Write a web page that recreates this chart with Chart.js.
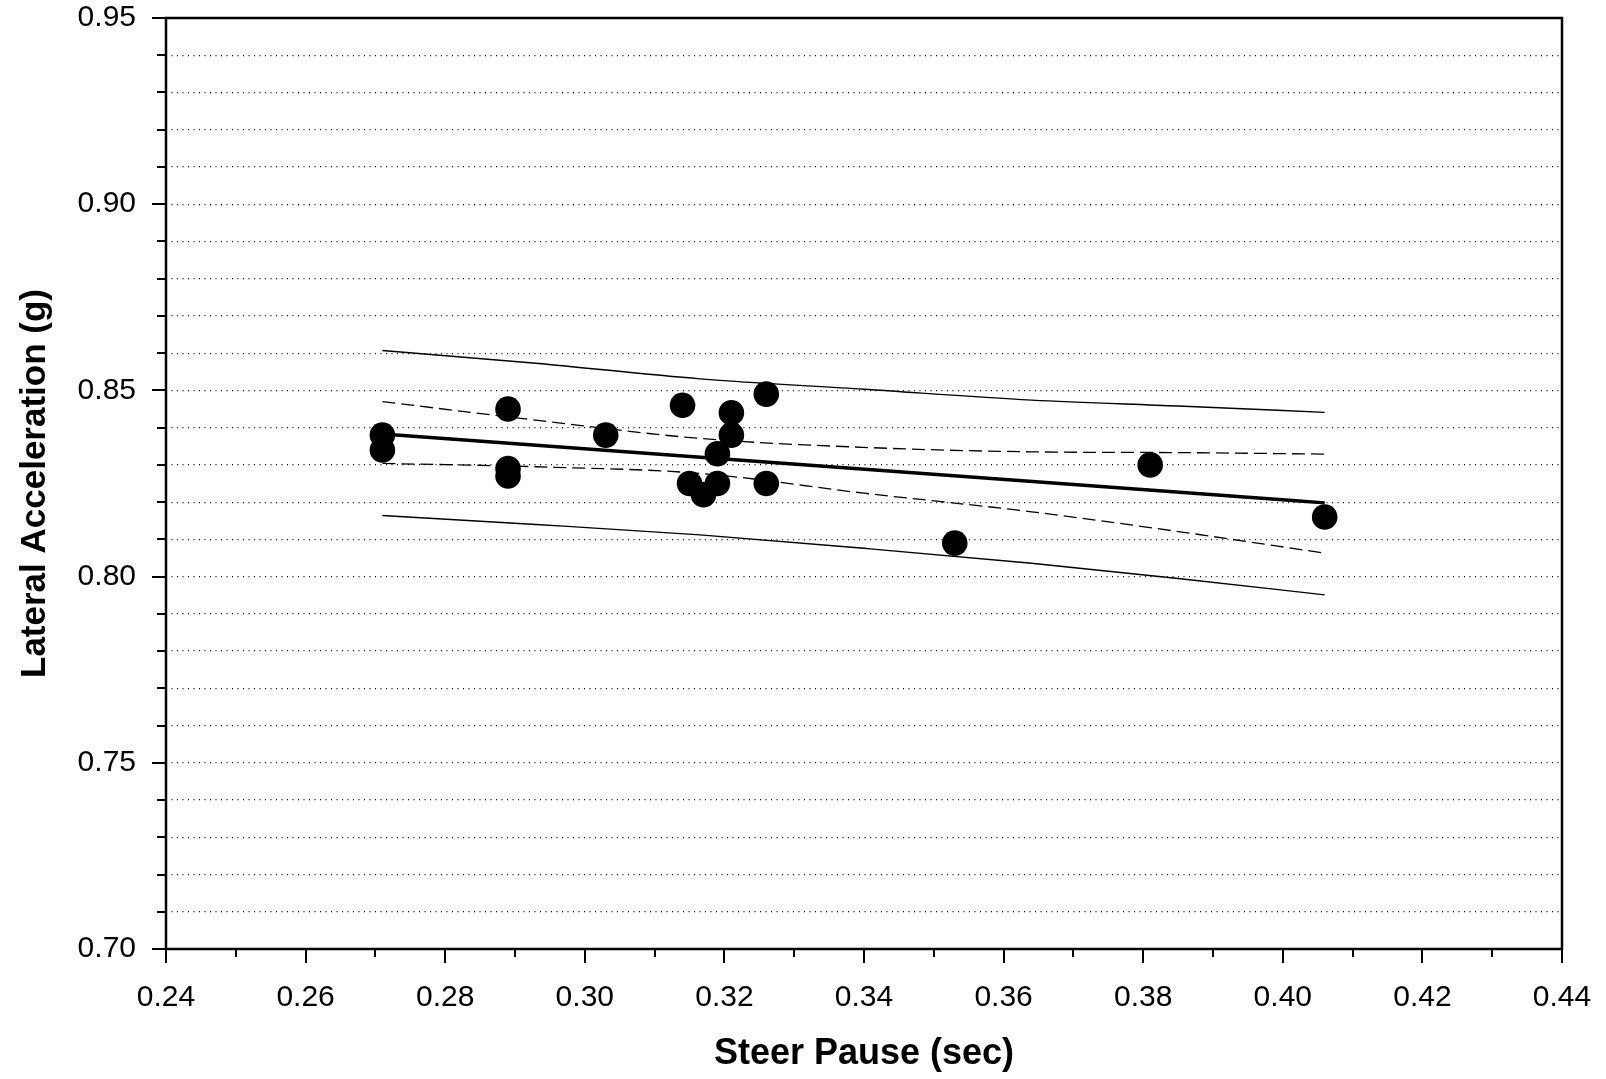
<!DOCTYPE html>
<html>
<head>
<meta charset="utf-8">
<script src="https://cdn.jsdelivr.net/npm/chart.js@4.4.0/dist/chart.umd.min.js"></script>
<style>
  body { margin: 0; background: #fff; }
  #wrap { width: 1606px; height: 1079px; }
</style>
</head>
<body>
<div id="wrap"><canvas id="myChart"></canvas></div>
<script>
// Measured points (steer pause vs lateral acceleration)
const steerPause = [0.271, 0.271, 0.289, 0.289, 0.289, 0.303, 0.314, 0.315, 0.317, 0.319, 0.319, 0.321, 0.321, 0.326, 0.326, 0.353, 0.381, 0.406]
const latAccel   = [0.838, 0.834, 0.845, 0.829, 0.827, 0.838, 0.846, 0.825, 0.822, 0.833, 0.825, 0.844, 0.838, 0.849, 0.825, 0.809, 0.830, 0.816]

// Linear fit
const fitX = [0.271, 0.406]
const fitY = [0.8383, 0.8198]

// Band curves
const bandX     = [0.271, 0.293, 0.3165, 0.340, 0.364, 0.385, 0.406]
const upperPred = [0.8607, 0.8573, 0.8531, 0.8503, 0.8474, 0.8458, 0.8441]
const lowerPred = [0.8164, 0.8140, 0.8112, 0.8076, 0.8036, 0.7995, 0.7951]
const upperConf = [0.8470, 0.8420, 0.8371, 0.8347, 0.8335, 0.8333, 0.8329]
const lowerConf = [0.8304, 0.8295, 0.8277, 0.8224, 0.8174, 0.8121, 0.8063]

// Axis settings
const xMin = 0.24, xMax = 0.44
const yMin = 0.70, yMax = 0.95

function pairs(xs, ys) {
    return xs.map((x, i) => ({x: x, y: ys[i]}))
}

function curve(xs, ys, width, dash, ord) {
    return {
        type: 'line',
        data: pairs(xs, ys),
        borderColor: '#000',
        borderWidth: width,
        borderDash: dash,
        pointRadius: 0,
        fill: false,
        cubicInterpolationMode: 'monotone',
        order: ord
    }
}

// keep the plot area where we put it (labels may overhang into the margins)
function noPad(scale) {
    scale.paddingLeft = 0
    scale.paddingRight = 0
    scale.paddingTop = 0
    scale.paddingBottom = 0
}

// Draws frame and the tick marks (long on major, short on minor)
const frameTicks = {
    id: 'frameTicks',
    afterDraw(chart) {
        const c = chart.ctx
        const a = chart.chartArea
        const xs = chart.scales.x
        const ys = chart.scales.y
        c.save()
        c.strokeStyle = '#000'
        c.lineWidth = 2
        c.setLineDash([])
        c.beginPath()
        ys.ticks.forEach(t => {
            const py = Math.round(ys.getPixelForValue(t.value))
            const major = Math.round(t.value * 100) % 5 === 0
            c.moveTo(a.left, py)
            c.lineTo(a.left - (major ? 14 : 9), py)
        })
        xs.ticks.forEach(t => {
            const px = Math.round(xs.getPixelForValue(t.value))
            const major = Math.round(t.value * 100) % 2 === 0
            c.moveTo(px, a.bottom)
            c.lineTo(px, a.bottom + (major ? 14 : 8))
        })
        c.stroke()
        c.lineWidth = 2.5
        c.strokeRect(a.left, a.top, a.right - a.left, a.bottom - a.top)
        c.restore()
    }
}

Chart.defaults.font.family = '"Liberation Sans", Arial, Helvetica, sans-serif'
Chart.defaults.color = '#000'

const ctx = document.getElementById('myChart').getContext('2d')
const config = {
    type: 'scatter',
    data: {
        datasets: [
            {
                data: pairs(steerPause, latAccel),
                backgroundColor: '#000',
                borderColor: '#000',
                borderWidth: 0,
                pointRadius: 12.8,
                order: 0
            },
            curve(fitX, fitY, 3.4, [], 1),
            curve(bandX, upperPred, 1.4, [], 2),
            curve(bandX, lowerPred, 1.4, [], 3),
            curve(bandX, upperConf, 1.3, [13, 6], 4),
            curve(bandX, lowerConf, 1.3, [13, 6], 5)
        ]
    },
    options: {
        responsive: true,
        maintainAspectRatio: false,
        animation: false,
        layout: {
            padding: { left: 0, top: 18, right: 44, bottom: 0 }
        },
        plugins: {
            legend: { display: false },
            tooltip: { enabled: false }
        },
        scales: {
            x: {
                type: 'linear',
                min: xMin,
                max: xMax,
                afterFit: (scale) => { scale.height = 130; noPad(scale) },
                grid: { display: false, drawTicks: false },
                border: { display: false },
                ticks: {
                    stepSize: 0.01,
                    autoSkip: false,
                    maxRotation: 0,
                    padding: 31,
                    font: { size: 30 },
                    callback: (v) => Math.round(v * 100) % 2 === 0 ? v.toFixed(2) : ''
                },
                title: {
                    display: true,
                    text: 'Steer Pause (sec)',
                    font: { size: 36, weight: 'bold' },
                    padding: { top: 0, bottom: 3 }
                }
            },
            y: {
                type: 'linear',
                min: yMin,
                max: yMax,
                afterFit: (scale) => { scale.width = 166; noPad(scale) },
                grid: {
                    drawTicks: false,
                    color: '#000',
                    lineWidth: 1.2,
                    borderDash: [1, 4.5]
                },
                border: { display: false, dash: [1, 4.5] },
                ticks: {
                    stepSize: 0.01,
                    autoSkip: false,
                    padding: 30,
                    font: { size: 30 },
                    callback: (v) => Math.round(v * 100) % 5 === 0 ? v.toFixed(2) : ''
                },
                title: {
                    display: true,
                    text: 'Lateral Acceleration (g)',
                    font: { size: 35, weight: 'bold' },
                    padding: { top: 14, bottom: 0 }
                }
            }
        }
    },
    plugins: [frameTicks]
}

const myChart = new Chart(ctx, config)
</script>
</body>
</html>
